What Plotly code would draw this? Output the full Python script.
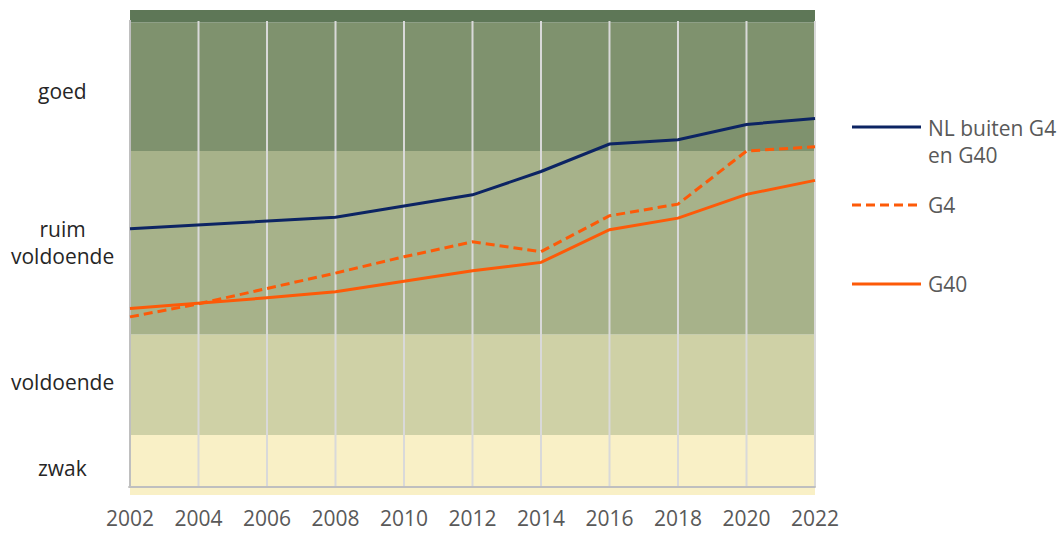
import plotly.graph_objects as go

years = [2002, 2004, 2006, 2008, 2010, 2012, 2014, 2016, 2018, 2020, 2022]
nl_buiten = [55.4, 56.2, 57.1, 57.9, 60.3, 62.7, 67.7, 73.6, 74.5, 77.8, 79.1]
g4 = [36.5, 39.3, 42.6, 45.9, 49.4, 52.6, 50.5, 58.2, 60.7, 72.1, 73.0]
g40 = [38.3, 39.4, 40.6, 41.9, 44.2, 46.4, 48.2, 55.2, 57.7, 62.8, 65.8]

band_names = ["zwak", "voldoende", "ruim<br>voldoende", "goed"]
band_edges = [-1.72, 11.16, 32.7, 72.1, 99.7, 102.36]
band_colors = ["#f9f0c6", "#cfd1a6", "#a7b28a", "#7f926e", "#5e7757"]
label_pos = [4.0, 22.6, 52.5, 84.9]

NAVY = "#0c2463"
ORANGE = "#fd5a08"
FONT = "Open Sans"

W, H = 1062, 534
ML, MR, MT, MB = 127, 244, 10, 39
xr = [2001.912, 2022.088]
yr = [-1.72, 102.36]

fig = go.Figure()
series = [("NL buiten G4 en G40", nl_buiten, NAVY, "solid"),
          ("G4", g4, ORANGE, "9px,5px"),
          ("G40", g40, ORANGE, "solid")]
for name, vals, col, dash in series:
    fig.add_trace(go.Scatter(x=years, y=vals, mode="lines", name=name,
                             line=dict(color=col, width=3, dash=dash),
                             showlegend=False, cliponaxis=False))

shapes = []
for i in range(len(band_colors)):
    shapes.append(dict(type="rect", xref="x", yref="y", x0=years[0], x1=years[-1],
                       y0=band_edges[i], y1=band_edges[i + 1], fillcolor=band_colors[i],
                       line=dict(width=0), layer="below"))
for yv in years[1:]:
    shapes.append(dict(type="line", xref="x", yref="y", x0=yv, x1=yv, y0=0, y1=100,
                       line=dict(color="#d9d9d9", width=2), layer="below"))
shapes.append(dict(type="line", xref="x", yref="y", x0=years[0], x1=years[0], y0=0, y1=100.2,
                   line=dict(color="#bfbfbf", width=2), layer="below"))
shapes.append(dict(type="line", xref="x", yref="y", x0=years[0] - 0.05, x1=years[-1] + 0.02, y0=0, y1=0,
                   line=dict(color="#bfbfbf", width=2), layer="below"))

pw = W - ML - MR
ph = H - MT - MB
def px2paper_x(px):
    return (px - ML) / pw
def py2paper_y(py):
    return (H - MB - py) / ph

annotations = []
for name, yv in zip(band_names, label_pos):
    annotations.append(dict(text=name, xref="paper", yref="y", x=px2paper_x(62), y=yv,
                            xanchor="center", yanchor="middle", showarrow=False,
                            font=dict(family=FONT, size=21, color="#262626")))

legend_items = [("NL buiten G4<br>en G40", NAVY, "solid", 127, 141.5),
                ("G4", ORANGE, "9px,5px", 205, 205),
                ("G40", ORANGE, "solid", 284, 283.5)]
for text, col, dash, ly, ty in legend_items:
    shapes.append(dict(type="line", xref="paper", yref="paper",
                       x0=px2paper_x(852), x1=px2paper_x(921),
                       y0=py2paper_y(ly), y1=py2paper_y(ly),
                       line=dict(color=col, width=3, dash=dash)))
    annotations.append(dict(text=text, xref="paper", yref="paper", x=px2paper_x(926),
                            y=py2paper_y(ty), xanchor="left", yanchor="middle",
                            align="left", showarrow=False,
                            font=dict(family=FONT, size=21, color="#595959")))

fig.update_layout(
    width=W, height=H,
    margin=dict(l=ML, r=MR, t=MT, b=MB, pad=0),
    paper_bgcolor="white", plot_bgcolor="white",
    shapes=shapes, annotations=annotations,
    font=dict(family=FONT, size=21, color="#595959"),
    xaxis=dict(range=xr, tickvals=years, ticktext=[str(y) for y in years],
               showgrid=False, zeroline=False, showline=False, automargin=False,
               ticks="outside", ticklen=0, ticklabelstandoff=5,
               tickfont=dict(family=FONT, size=21, color="#595959")),
    yaxis=dict(range=yr, showgrid=False, zeroline=False, showline=False,
               showticklabels=False, ticks="", automargin=False),
)

fig.write_html("out.html", config={"displayModeBar": False},
               post_script="document.body.style.margin='0';document.body.style.overflow='hidden';")
